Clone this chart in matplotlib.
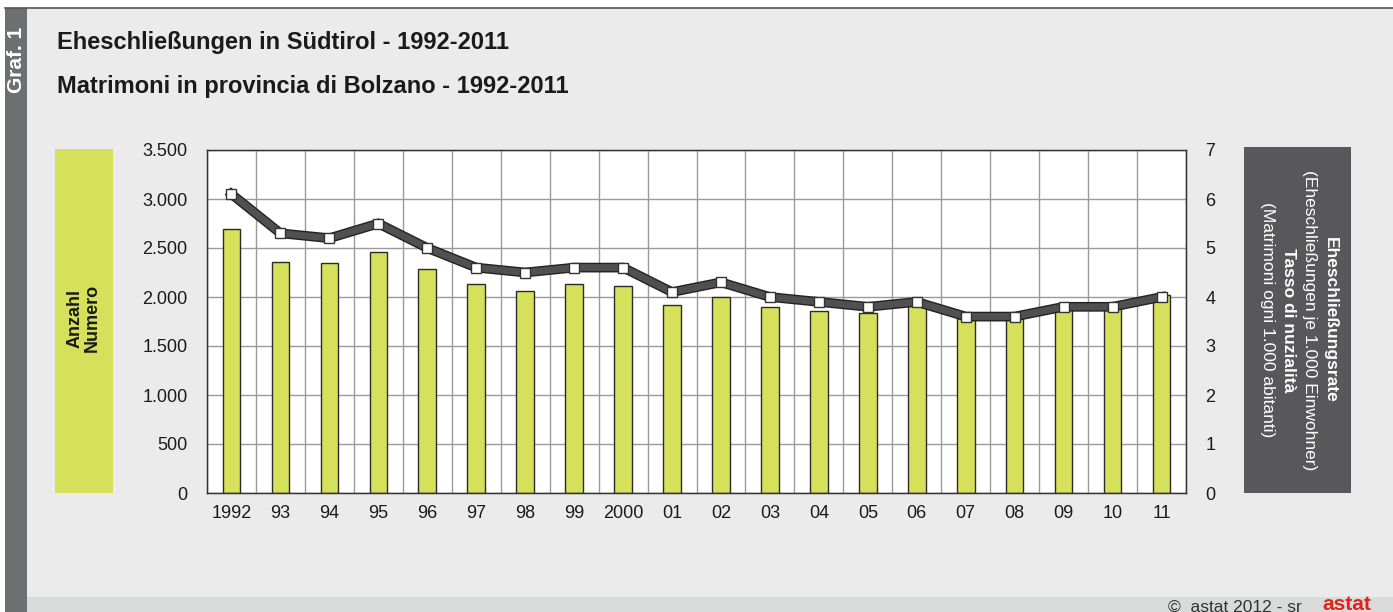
import matplotlib.pyplot as plt
import matplotlib.patheffects as pe
from matplotlib.patches import Rectangle
from matplotlib.ticker import FuncFormatter
import numpy as np

plt.rcParams['font.family'] = ['Liberation Sans', 'DejaVu Sans']

years = ["1992", "93", "94", "95", "96", "97", "98", "99", "2000", "01",
         "02", "03", "04", "05", "06", "07", "08", "09", "10", "11"]
marriages = [2690, 2360, 2345, 2460, 2285, 2135, 2065, 2130, 2110, 1915,
             2000, 1900, 1860, 1840, 1935, 1790, 1785, 1880, 1890, 2025]
rate = [6.1, 5.3, 5.2, 5.5, 5.0, 4.6, 4.5, 4.6, 4.6, 4.1,
        4.3, 4.0, 3.9, 3.8, 3.9, 3.6, 3.6, 3.8, 3.8, 4.0]

W, H = 1393, 612
fig = plt.figure(figsize=(W / 100, H / 100), dpi=100)
fig.patch.set_facecolor('#EAEBEA')

def box(x0, y0, x1, y1):
    # pixel box (top-left origin) -> figure fraction rect
    return [x0 / W, 1 - y1 / H, (x1 - x0) / W, (y1 - y0) / H]

# frame decorations
fig.add_artist(Rectangle((0, 1 - 7 / H), 1, 7 / H, transform=fig.transFigure,
                         facecolor='white', edgecolor='none'))
fig.add_artist(plt.Line2D([5 / W, 1], [1 - 8 / H, 1 - 8 / H], transform=fig.transFigure,
                          color='#555555', lw=1.2))
fig.add_artist(Rectangle((0, 0), 5 / W, 1, transform=fig.transFigure,
                         facecolor='white', edgecolor='none'))
fig.add_artist(Rectangle((5 / W, 0), 22 / W, 1 - 8 / H, transform=fig.transFigure,
                         facecolor='#6E6F70', edgecolor='none'))
fig.add_artist(Rectangle((27 / W, 0), 1, 15 / H, transform=fig.transFigure,
                         facecolor='#D9DADA', edgecolor='none'))
fig.text(16 / W, 1 - 60 / H, 'Graf. 1', rotation=90, color='white', fontsize=15,
         fontweight='bold', ha='center', va='center')

fig.text(57 / W, 1 - 42 / H, 'Eheschließungen in Südtirol - 1992-2011',
         fontsize=17, fontweight='bold', color='#1A1A1A', va='center')
fig.text(57 / W, 1 - 86 / H, 'Matrimoni in provincia di Bolzano - 1992-2011',
         fontsize=17, fontweight='bold', color='#1A1A1A', va='center')

# side label boxes
fig.add_artist(Rectangle((55 / W, 1 - 493 / H), 58 / W, 344 / H, transform=fig.transFigure,
                         facecolor='#D6E05A', edgecolor='none'))
fig.text(84 / W, 1 - 318 / H, 'Anzahl\nNumero', rotation=90, fontsize=13,
         fontweight='bold', ha='center', va='center', color='#1A1A1A', linespacing=1.0)
fig.add_artist(Rectangle((1244 / W, 1 - 493 / H), 107 / W, 346 / H, transform=fig.transFigure,
                         facecolor='#58585A', edgecolor='none'))
fig.text(1330 / W, 1 - 320 / H, 'Eheschließungsrate', rotation=270, fontsize=12.5,
         fontweight='bold', ha='center', va='center', color='white')
fig.text(1310 / W, 1 - 320 / H, '(Eheschließungen je 1.000 Einwohner)', rotation=270,
         fontsize=12.5, ha='center', va='center', color='white')
fig.text(1289 / W, 1 - 320 / H, 'Tasso di nuzialità', rotation=270, fontsize=12.5,
         fontweight='bold', ha='center', va='center', color='white')
fig.text(1268 / W, 1 - 320 / H, '(Matrimoni ogni 1.000 abitanti)', rotation=270,
         fontsize=12.5, ha='center', va='center', color='white')

# footer
fig.text(1168 / W, 1 - 607 / H, '©  astat 2012 - sr', fontsize=12.5, color='#333333', va='center')
fig.text(1322 / W, 1 - 605 / H, 'astat', fontsize=15, fontweight='bold', color='#E2231A',
         va='center')

# main chart
ax = fig.add_axes(box(207, 150, 1186, 493))
x = np.arange(len(years))
ax.bar(x, marriages, width=0.36, color='#D6E05A', edgecolor='#2B2B2B', linewidth=1, zorder=2)
ax.set_xlim(-0.5, len(years) - 0.5)
ax.set_ylim(0, 3500)
ax.set_yticks(np.arange(0, 3501, 500))
ax.yaxis.set_major_formatter(FuncFormatter(lambda v, p: f'{int(v):,}'.replace(',', '.')))
ax.set_xticks(x)
ax.set_xticklabels(years)
ax.set_xticks(np.arange(-0.5, len(years), 1), minor=True)
ax.grid(axis='y', which='major', color='#9A9A9A', lw=1, zorder=0)
ax.grid(axis='x', which='minor', color='#9A9A9A', lw=1, zorder=0)
ax.tick_params(axis='both', which='both', length=0, labelsize=13, colors='#1A1A1A')
ax.tick_params(axis='y', pad=14)
ax.tick_params(axis='x', pad=9)
ax.set_axisbelow(True)
for s in ax.spines.values():
    s.set_color('#333333')
    s.set_linewidth(1)

ax2 = ax.twinx()
ax2.set_ylim(0, 7)
ax2.set_yticks(range(8))
ax2.tick_params(axis='y', length=0, labelsize=13, colors='#1A1A1A', pad=14)
ax2.plot(x, rate, color='#505050', lw=5, solid_joinstyle='miter',
         path_effects=[pe.Stroke(linewidth=7, foreground='#222222'), pe.Normal()])
ax2.plot(x, rate, ls='none', marker='s', ms=6.5, mfc='white', mec='#333333', mew=1)
for s in ax2.spines.values():
    s.set_color('#333333')

fig.savefig('out.png', dpi=100, facecolor=fig.get_facecolor())
